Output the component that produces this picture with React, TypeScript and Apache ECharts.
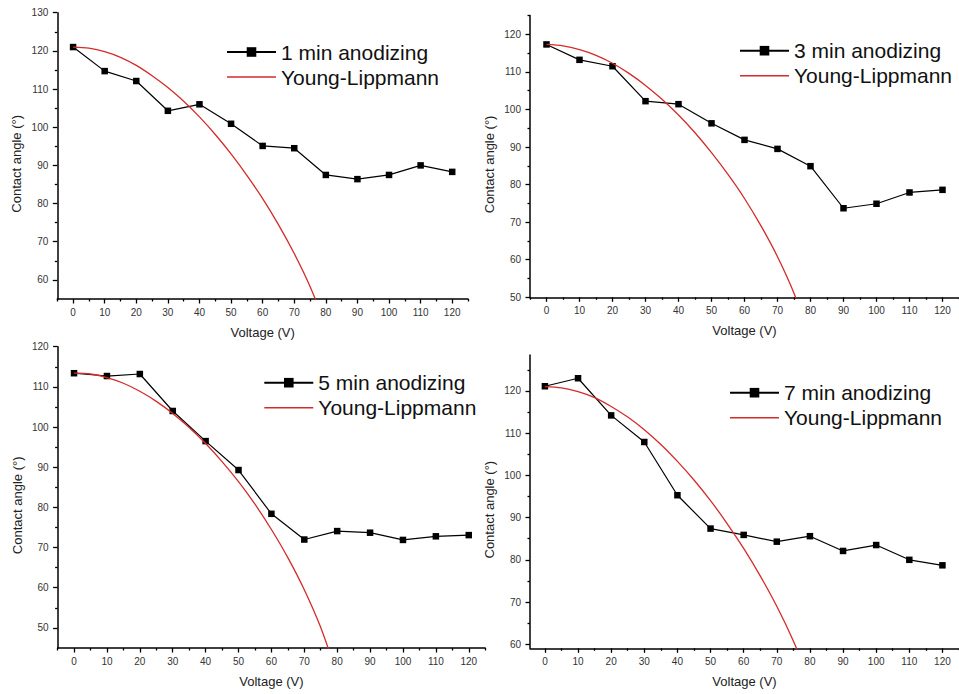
import React, { useEffect, useRef } from 'react';
import * as echarts from 'echarts';

// ---- Data ----
const voltage = [0, 10, 20, 30, 40, 50, 60, 70, 80, 90, 100, 110, 120];
const ylVoltage = [0, 5, 10, 15, 20, 25, 30, 35, 40, 45, 50, 55, 60, 65, 70, 75, 80];

const angle1min = [121.0, 114.7, 112.1, 104.3, 106.0, 100.9, 95.1, 94.5, 87.5, 86.4, 87.5, 90.0, 88.3];
const angle3min = [117.3, 113.2, 111.5, 102.2, 101.4, 96.3, 91.9, 89.5, 84.9, 73.7, 74.9, 77.9, 78.6];
const angle5min = [113.4, 112.7, 113.2, 104.0, 96.5, 89.3, 78.4, 72.0, 74.1, 73.7, 71.9, 72.8, 73.1];
const angle7min = [121.1, 123.0, 114.2, 107.9, 95.3, 87.4, 85.9, 84.3, 85.6, 82.1, 83.5, 80.0, 78.7];

const youngLippmann1 = [121.0, 120.7, 119.8, 118.3, 116.2, 113.5, 110.4, 106.8, 102.7, 98.1, 93.0, 87.4, 81.3, 74.5, 66.9, 58.3, 48.0];
const youngLippmann3 = [117.3, 116.9, 115.9, 114.4, 112.3, 109.6, 106.4, 102.7, 98.5, 93.8, 88.5, 82.7, 76.3, 69.0, 60.8, 51.1, 39.0];
const youngLippmann5 = [113.4, 113.2, 112.3, 110.9, 108.9, 106.4, 103.4, 99.9, 95.9, 91.4, 86.4, 80.8, 74.5, 67.5, 59.5, 50.1, 38.3];
const youngLippmann7 = [121.0, 120.7, 119.8, 118.4, 116.3, 113.8, 110.8, 107.3, 103.3, 98.9, 94.0, 88.6, 82.7, 76.2, 69.0, 60.8, 51.3];

const seriesNames = ['1 min anodizing', '3 min anodizing', '5 min anodizing', '7 min anodizing'];
const modelName = 'Young-Lippmann';

// Tick labels / tick positions
const xMajorTicks = [0, 10, 20, 30, 40, 50, 60, 70, 80, 90, 100, 110, 120];
const xMinorTicks = [-5, 5, 15, 25, 35, 45, 55, 65, 75, 85, 95, 105, 115, 125];
const yMajorTicks1 = [60, 70, 80, 90, 100, 110, 120, 130];
const yMinorTicks1 = [65, 75, 85, 95, 105, 115, 125];
const yMajorTicks3 = [50, 60, 70, 80, 90, 100, 110, 120];
const yMinorTicks3 = [55, 65, 75, 85, 95, 105, 115, 125];
const yMajorTicks5 = [50, 60, 70, 80, 90, 100, 110, 120];
const yMinorTicks5 = [55, 65, 75, 85, 95, 105, 115];
const yMajorTicks7 = [60, 70, 80, 90, 100, 110, 120];
const yMinorTicks7 = [65, 75, 85, 95, 105, 115, 125];

const FONT = 'Liberation Sans, Arial, Helvetica, sans-serif';
const RED = '#d42b2b';

const panels = [
  {
    name: seriesNames[0], angle: angle1min, yl: youngLippmann1,
    grid: { left: 57.3, top: 12.7, width: 410.7, height: 286.3 },
    xMin: -5, xMax: 125, yMin: 55, yMax: 130,
    yMajor: yMajorTicks1, yMinor: yMinorTicks1,
    legend: { left: 221, top: 36.5 },
  },
  {
    name: seriesNames[1], angle: angle3min, yl: youngLippmann3,
    grid: { left: 530, top: 15.5, width: 435.1, height: 281.8 },
    xMin: -5, xMax: 125, yMin: 50, yMax: 125,
    yMajor: yMajorTicks3, yMinor: yMinorTicks3,
    legend: { left: 734, top: 35.2 },
  },
  {
    name: seriesNames[2], angle: angle5min, yl: youngLippmann5,
    grid: { left: 57.6, top: 346.7, width: 427.6, height: 301.3 },
    xMin: -5, xMax: 125, yMin: 45, yMax: 120,
    yMajor: yMajorTicks5, yMinor: yMinorTicks5,
    legend: { left: 258.3, top: 367.2 },
  },
  {
    name: seriesNames[3], angle: angle7min, yl: youngLippmann7,
    grid: { left: 530, top: 355, width: 432, height: 293.3 },
    xMin: -4.5, xMax: 125, yMin: 59.05, yMax: 128.5,
    yMajor: yMajorTicks7, yMinor: yMinorTicks7,
    legend: { left: 724, top: 377.2 },
  },
];

function buildOption(): any {
  const grid: any[] = [];
  const xAxis: any[] = [];
  const yAxis: any[] = [];
  const series: any[] = [];
  const legend: any[] = [];

  panels.forEach((p, i) => {
    grid.push({ ...p.grid, containLabel: false });
    const tickLine = { color: '#000', width: 1.3 };
    const inX = (v: number) => v >= p.xMin && v <= p.xMax;
    const inY = (v: number) => v >= p.yMin && v <= p.yMax;

    xAxis.push({
      type: 'value', gridIndex: i, min: p.xMin, max: p.xMax, position: 'bottom',
      axisLine: { show: true, onZero: false, lineStyle: { color: '#000', width: 1.5 } },
      axisTick: { show: true, length: 4.5, lineStyle: tickLine, customValues: xMajorTicks.filter(inX) },
      axisLabel: { show: true, customValues: xMajorTicks.filter(inX), fontSize: 10, color: '#333', margin: 8, fontFamily: FONT },
      splitLine: { show: false },
      name: 'Voltage (V)', nameLocation: 'middle', nameGap: 27,
      nameTextStyle: { fontSize: 13, color: '#222', fontFamily: FONT },
    });
    xAxis.push({
      type: 'value', gridIndex: i, min: p.xMin, max: p.xMax, position: 'bottom',
      axisLine: { show: false, onZero: false },
      axisTick: { show: true, length: 2.5, lineStyle: tickLine, customValues: xMinorTicks.filter(inX) },
      axisLabel: { show: false },
      splitLine: { show: false },
    });
    yAxis.push({
      type: 'value', gridIndex: i, min: p.yMin, max: p.yMax, position: 'left',
      axisLine: { show: true, onZero: false, lineStyle: { color: '#000', width: 1.5 } },
      axisTick: { show: true, length: 4.5, lineStyle: tickLine, customValues: p.yMajor.filter(inY) },
      axisLabel: { show: true, customValues: p.yMajor.filter(inY), fontSize: 10, color: '#333', margin: 9, fontFamily: FONT },
      splitLine: { show: false },
      name: 'Contact angle (°)', nameLocation: 'middle', nameGap: 34,
      nameTextStyle: { fontSize: 13, color: '#222', fontFamily: FONT, padding: [0, 16, 0, 0] },
    });
    yAxis.push({
      type: 'value', gridIndex: i, min: p.yMin, max: p.yMax, position: 'left',
      axisLine: { show: false, onZero: false },
      axisTick: { show: true, length: 2.5, lineStyle: tickLine, customValues: p.yMinor.filter(inY) },
      axisLabel: { show: false },
      splitLine: { show: false },
    });

    series.push({
      type: 'line', name: p.name, xAxisIndex: 2 * i, yAxisIndex: 2 * i,
      data: voltage.map((v, k) => [v, p.angle[k]]),
      symbol: 'rect', symbolSize: 6.5,
      lineStyle: { color: '#000', width: 1.2 },
      itemStyle: { color: '#000' },
      z: 2, clip: true,
    });
    series.push({
      type: 'line', name: modelName, xAxisIndex: 2 * i, yAxisIndex: 2 * i,
      data: ylVoltage.map((v, k) => [v, p.yl[k]]),
      symbol: 'none', smooth: 0.3,
      lineStyle: { color: RED, width: 1.3 },
      itemStyle: { color: RED },
      z: 3, clip: true,
    });

    legend.push({
      orient: 'vertical', left: p.legend.left, top: p.legend.top,
      itemWidth: 49, itemHeight: 12, itemGap: 4, selectedMode: false,
      textStyle: { fontSize: 21, color: '#111', fontFamily: FONT },
      data: [
        { name: p.name },
        { name: modelName, icon: 'path://M0,0H49V1.4H0Z' },
      ],
    });
  });

  return {
    animation: false,
    backgroundColor: '#fff',
    textStyle: { fontFamily: FONT },
    grid, xAxis, yAxis, series, legend,
  };
}

export default function App() {
  const ref = useRef<HTMLDivElement>(null);
  useEffect(() => {
    if (!ref.current) return;
    const chart = echarts.init(ref.current, undefined, { renderer: 'svg' });
    chart.setOption(buildOption());
    return () => chart.dispose();
  }, []);
  return (
    <div
      ref={ref}
      style={{ position: 'absolute', left: 0, top: 0, width: 959, height: 694, background: '#fff' }}
    />
  );
}
